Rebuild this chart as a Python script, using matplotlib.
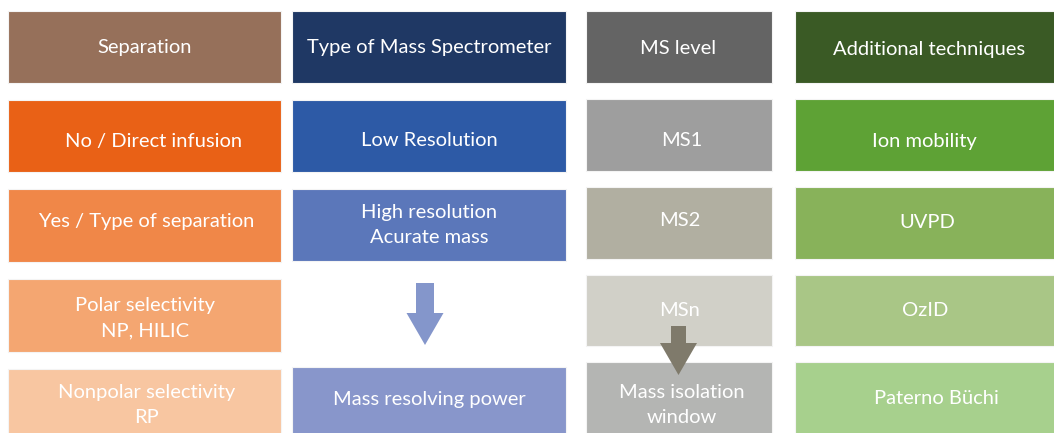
import matplotlib
matplotlib.use("Agg")
import matplotlib.pyplot as plt
from matplotlib.patches import Rectangle, FancyArrow

# ── content ──────────────────────────────────────────────────────────────────
separation = ["Separation", "No / Direct infusion", "Yes / Type of separation",
              "Polar selectivity\nNP, HILIC", "Nonpolar selectivity\nRP"]
ms_type = ["Type of Mass Spectrometer", "Low Resolution",
           "High resolution\nAcurate mass", None, "Mass resolving power"]
ms_level = ["MS level", "MS1", "MS2", "MSn", "Mass isolation\nwindow"]
additional = ["Additional techniques", "Ion mobility", "UVPD", "OzID", "Paterno Büchi"]

sep_colors = ["#96705A", "#E96116", "#F08748", "#F4A671", "#F8C6A1"]
type_colors = ["#1F3864", "#2D5AA6", "#5B77BA", None, "#8896CB"]
level_colors = ["#646464", "#9E9E9E", "#B1AFA1", "#D1D0C8", "#B4B5B3"]
add_colors = ["#3A5A25", "#5EA235", "#88B25A", "#A9C686", "#A7D08D"]

columns = [separation, ms_type, ms_level, additional]
colors = [sep_colors, type_colors, level_colors, add_colors]

# ── layout (pixels) ──────────────────────────────────────────────────────────
col_x = [(8, 281), (292, 566), (586, 772), (795, 1060)]
row_y = [
    [(11, 83), (100, 172), (189, 262), (279, 352), (369, 440)],
    [(11, 83), (100, 172), (189, 261), None, (367, 440)],
    [(11, 83), (99, 171), (187, 259), (275, 346), (362, 440)],
    [(11, 83), (99, 171), (187, 259), (275, 346), (362, 440)],
]
text_y = [
    [48, 141, 221, 318, 405],
    [48, 141, 225, None, 400],
    [48, 141, 221, 310, 405],
    [49, 141, 223, 310, 398],
]
text_x = [[145, 154, 146, 145, 147],
          [429, 429, 429, None, 429],
          [678, 682, 680, 680, 682],
          [929, 924, 927, 925, 936]]

plt.rcParams["font.family"] = ["Lato", "DejaVu Sans"]

fig = plt.figure(figsize=(10.54, 4.33), dpi=100)
ax = fig.add_axes([0, 0, 1, 1])
ax.set_xlim(0, 1054)
ax.set_ylim(433, 0)
ax.axis("off")

for c, (labels, cols) in enumerate(zip(columns, colors)):
    x0, x1 = col_x[c]
    for r, (lab, col) in enumerate(zip(labels, cols)):
        if lab is None:
            continue
        y0, y1 = row_y[c][r]
        ax.add_patch(Rectangle((x0, y0), x1 - x0, y1 - y0, facecolor=col,
                               edgecolor="#f4f4f4", linewidth=0.8))
        ax.text(text_x[c][r], text_y[c][r], lab, ha="center", va="center",
                color="white", fontsize=14.5, linespacing=1.6)

# arrows
ax.add_patch(FancyArrow(425, 283, 0, 62, width=18, head_width=37,
                        head_length=32, length_includes_head=True,
                        color="#8496CB", linewidth=0))
ax.add_patch(FancyArrow(678.5, 326, 0, 49, width=15, head_width=37,
                        head_length=32, length_includes_head=True,
                        color="#7F7A6B", linewidth=0))

fig.savefig("out.png", dpi=100)
